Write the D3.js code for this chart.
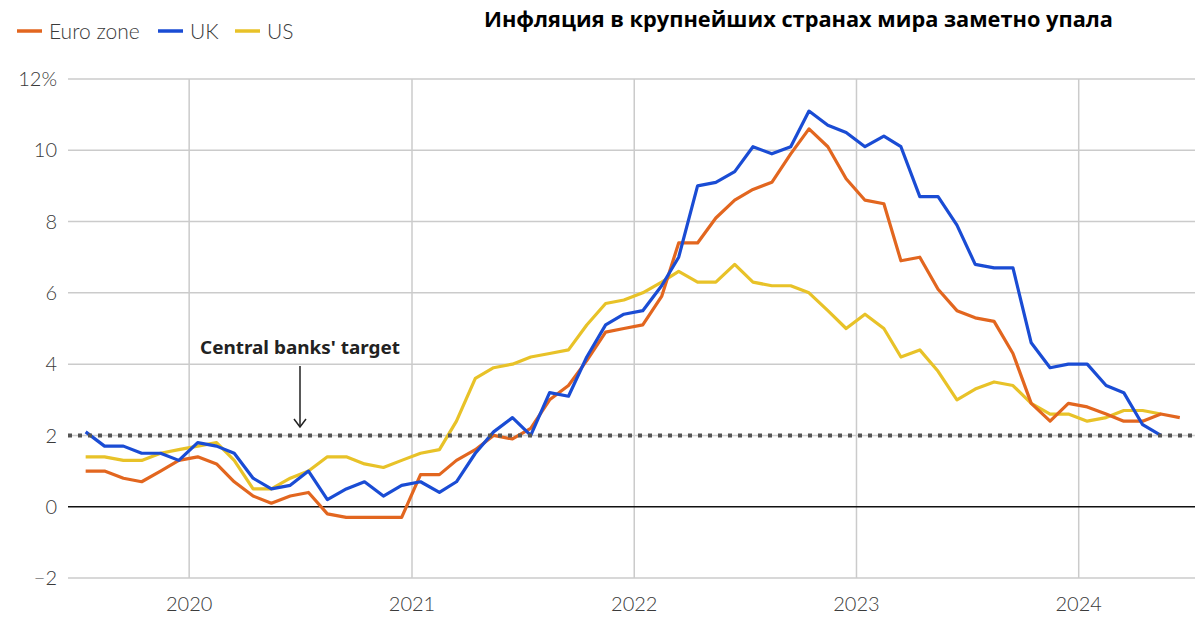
<!DOCTYPE html>
<html><head><meta charset="utf-8">
<script src="https://cdn.jsdelivr.net/npm/d3@7"></script>
<style>body{margin:0;background:#fff;} svg{display:block;}</style>
</head><body>
<svg id="chart" width="1200" height="619"></svg>
<script>
const startMonth = "2019-07";
const euroZone = [1.0,1.0,0.8,0.7,1.0,1.3,
 1.4,1.2,0.7,0.3,0.1,0.3,0.4,-0.2,-0.3,-0.3,-0.3,-0.3,
 0.9,0.9,1.3,1.6,2.0,1.9,2.2,3.0,3.4,4.1,4.9,5.0,
 5.1,5.9,7.4,7.4,8.1,8.6,8.9,9.1,9.9,10.6,10.1,9.2,
 8.6,8.5,6.9,7.0,6.1,5.5,5.3,5.2,4.3,2.9,2.4,2.9,
 2.8,2.6,2.4,2.4,2.6,2.5];
const uk = [2.1,1.7,1.7,1.5,1.5,1.3,
 1.8,1.7,1.5,0.8,0.5,0.6,1.0,0.2,0.5,0.7,0.3,0.6,
 0.7,0.4,0.7,1.5,2.1,2.5,2.0,3.2,3.1,4.2,5.1,5.4,
 5.5,6.2,7.0,9.0,9.1,9.4,10.1,9.9,10.1,11.1,10.7,10.5,
 10.1,10.4,10.1,8.7,8.7,7.9,6.8,6.7,6.7,4.6,3.9,4.0,
 4.0,3.4,3.2,2.3,2.0];
const us = [1.4,1.4,1.3,1.3,1.5,1.6,
 1.7,1.8,1.3,0.5,0.5,0.8,1.0,1.4,1.4,1.2,1.1,1.3,
 1.5,1.6,2.4,3.6,3.9,4.0,4.2,4.3,4.4,5.1,5.7,5.8,
 6.0,6.3,6.6,6.3,6.3,6.8,6.3,6.2,6.2,6.0,5.5,5.0,
 5.4,5.0,4.2,4.4,3.8,3.0,3.3,3.5,3.4,2.9,2.6,2.6,
 2.4,2.5,2.7,2.7,2.6];
const seriesNames = ["Euro zone","UK","US"];
const seriesColors = ["#e2661f","#1a4cd4","#e8c228"];
const yTicks = [-2,0,2,4,6,8,10,12];
const yearTicks = [2020,2021,2022,2023,2024];
const target = 2;
const title = "Инфляция в крупнейших странах мира заметно упала";
const annotation = "Central banks' target";

const svg = d3.select("#chart");
const pLeft = 68, pRight = 1195, pTop = 79, pBottom = 578;
const labelFont = "Lato, 'Noto Sans', sans-serif";
const [sy, sm] = startMonth.split("-").map(Number);
const dateOf = i => new Date(sy, sm - 1 + i, 15);
const x = d3.scaleTime().domain([new Date(2019,5,16), new Date(2024,6,10)]).range([pLeft, pRight]);
const y = d3.scaleLinear().domain([-2, 12]).range([pBottom, pTop]);

svg.append("g").selectAll("line").data(yTicks.filter(d => d !== 0)).join("line")
  .attr("x1", pLeft).attr("x2", pRight).attr("y1", d => y(d)).attr("y2", d => y(d))
  .attr("stroke", "#cbcbcb").attr("stroke-width", 1.5);
svg.append("g").selectAll("line").data(yearTicks).join("line")
  .attr("x1", d => x(new Date(d,0,1))).attr("x2", d => x(new Date(d,0,1)))
  .attr("y1", pTop).attr("y2", pBottom)
  .attr("stroke", "#cbcbcb").attr("stroke-width", 1.5);

svg.append("g").selectAll("text").data(yTicks).join("text")
  .attr("x", 57).attr("y", d => y(d)).attr("dy", "0.36em")
  .attr("text-anchor", "end").attr("font-family", labelFont).attr("font-weight", 300)
  .attr("font-size", 20).attr("fill", "#3a3a3a")
  .text(d => d === 12 ? "12%" : (d < 0 ? "\u2212" + Math.abs(d) : d));
svg.append("g").selectAll("text").data(yearTicks).join("text")
  .attr("x", d => x(new Date(d,0,1))).attr("y", 611)
  .attr("text-anchor", "middle").attr("font-family", labelFont).attr("font-weight", 300)
  .attr("font-size", 20).attr("fill", "#3a3a3a").text(d => d);

svg.append("line").attr("x1", pLeft).attr("x2", pRight).attr("y1", y(0)).attr("y2", y(0))
  .attr("stroke", "#111").attr("stroke-width", 1.5);

const all = [euroZone, uk, us];
const line = d3.line().x((d,i) => x(dateOf(i))).y(d => y(d));
[2,0,1].forEach(k => {
  svg.append("path").datum(all[k]).attr("d", line).attr("fill", "none")
    .attr("stroke", seriesColors[k]).attr("stroke-width", 3.2)
    .attr("stroke-linejoin", "round").attr("stroke-linecap", "butt");
});

svg.append("line").attr("x1", pLeft).attr("x2", pRight).attr("y1", y(target)).attr("y2", y(target))
  .attr("stroke", "#555").attr("stroke-width", 4).attr("stroke-dasharray", "4,6");

svg.append("text").attr("x", 300).attr("y", 354).attr("text-anchor", "middle")
  .attr("font-family", "'Noto Sans', sans-serif").attr("font-weight", "bold")
  .attr("font-size", 18).attr("fill", "#222")
  .attr("textLength", 200).attr("lengthAdjust", "spacingAndGlyphs").text(annotation);
svg.append("line").attr("x1", 300).attr("x2", 300).attr("y1", 366).attr("y2", 426)
  .attr("stroke", "#222").attr("stroke-width", 1.5);
svg.append("path").attr("d", "M294,419 L300,427 L306,419").attr("fill", "none")
  .attr("stroke", "#222").attr("stroke-width", 1.5);

const legendX = [17, 158, 235];
seriesNames.forEach((n, k) => {
  svg.append("line").attr("x1", legendX[k]).attr("x2", legendX[k] + 25)
    .attr("y1", 31).attr("y2", 31).attr("stroke", seriesColors[k]).attr("stroke-width", 3.5);
  svg.append("text").attr("x", legendX[k] + 32).attr("y", 31).attr("dy", "0.36em")
    .attr("font-family", labelFont).attr("font-weight", 300).attr("font-size", 21)
    .attr("fill", "#3a3a3a").text(n);
});

svg.append("text").attr("x", 484).attr("y", 27)
  .attr("font-family", "'Open Sans', 'Noto Sans', sans-serif").attr("font-weight", "bold")
  .attr("font-size", 22).attr("fill", "#000")
  .attr("textLength", 629).attr("lengthAdjust", "spacingAndGlyphs").text(title);
</script>
</body></html>
